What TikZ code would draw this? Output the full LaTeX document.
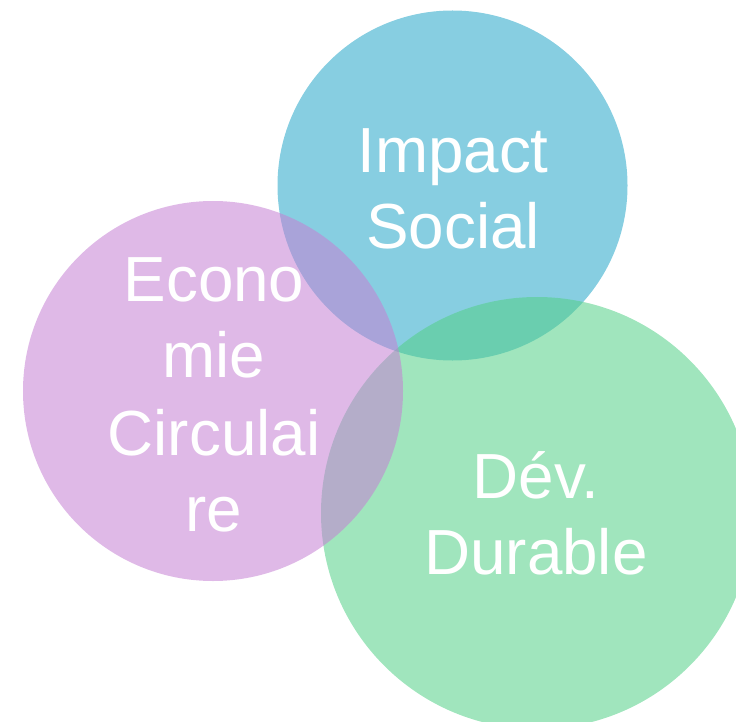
\documentclass[tikz,border=0pt]{standalone}
\usepackage{fontspec}
\setmainfont{Liberation Sans}
\definecolor{cblue}{RGB}{37,166,200}
\definecolor{cgreen}{RGB}{82,208,135}
\definecolor{cpurple}{RGB}{197,128,211}
\begin{document}
\begin{tikzpicture}[x=1bp,y=-1bp,
  bubble/.style={circle, inner sep=0pt, draw=none, fill opacity=0.55},
  lbl/.style={text=white, anchor=base, inner sep=0pt, font=\fontsize{64}{77}\selectfont}]
\useasboundingbox (0,0) rectangle (736,722);
\clip (0,0) rectangle (736,722);
\node[bubble, fill=cblue, minimum size=350bp] (social) at (452.5,185.5) {};
\node[bubble, fill=cgreen, minimum size=432bp] (durable) at (537,513) {};
\node[bubble, fill=cpurple, minimum size=380bp] (eco) at (213,391) {};
\node[lbl] (s1) at (453,172) {Impact};
\node[lbl] (s2) at (453,248) {Social};
\node[lbl] (e1) at (214,301) {Econo};
\node[lbl] (e2) at (214,377) {mie};
\node[lbl] (e3) at (214,455) {Circulai};
\node[lbl] (e4) at (214,531) {re};
\node[lbl] (d1) at (536,498) {Dév.};
\node[lbl] (d2) at (536,574) {Durable};
\end{tikzpicture}
\end{document}
